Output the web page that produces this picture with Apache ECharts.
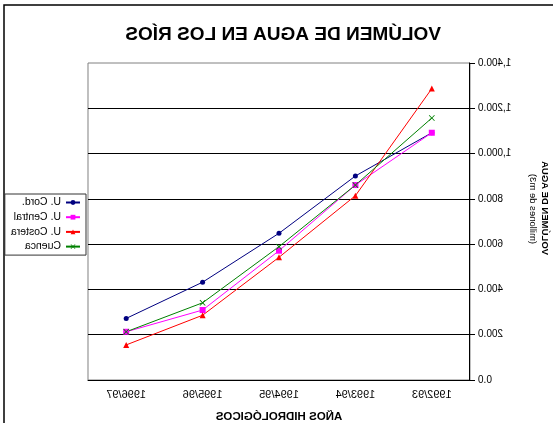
<!DOCTYPE html>
<html>
    <head>
        <meta charset="utf-8">
        <title>volumen-rios</title>
        <style>*{margin:0;padding:0}body{background:#fff}#chart{width:553px;height:423px;transform:scaleX(-1)}</style>
    </head>
    <body>
        <div id="chart"></div>
        <script type="text/javascript" src="https://cdn.jsdelivr.net/npm/echarts@6/dist/echarts.min.js"></script>
        <script>
            // años hidrológicos
            const years = ['1992/93', '1993/94', '1994/95', '1995/96', '1996/97'];
            // volumen (millones de m3)
            const uCord = [1092, 901, 648, 432, 272];
            const uCentral = [1092, 861, 571, 309, 213];
            const uCostera = [1287, 814, 542, 286, 155];
            const cuenca = [1157, 861, 589, 341, 213];
            const yTicks = [0, 200, 400, 600, 800, 1000, 1200, 1400];

            const font = 'Arial, "Liberation Sans", sans-serif';
            const chart = echarts.init(document.getElementById('chart'));

            function fmt(v) {
                return v.toLocaleString('en-US', { minimumFractionDigits: 1, maximumFractionDigits: 1 });
            }

            const xMark = 'path://M0,1L1,0L5,4L9,0L10,1L6,5L10,9L9,10L5,6L1,10L0,9L4,5Z';

            function line(name, data, color, symbol, size) {
                return {
                    name: name,
                    type: 'line',
                    data: data,
                    symbol: symbol,
                    symbolSize: size,
                    lineStyle: { color: color, width: 1 },
                    itemStyle: { color: color },
                    emphasis: { disabled: true },
                    animation: false
                };
            }

            chart.setOption({
                backgroundColor: '#fff',
                title: {
                    text: 'VOLÚMEN DE AGUA EN LOS RÍOS',
                    left: 107, top: 20,
                    textStyle: { fontFamily: font, fontSize: 19, fontWeight: 'bold', color: '#000' }
                },
                legend: {
                    orient: 'vertical',
                    left: 467, top: 194,
                    padding: [3, 6, 3, 5],
                    itemWidth: 14, itemHeight: 6, itemGap: 3.7,
                    borderColor: '#333', borderWidth: 1,
                    textStyle: { fontFamily: font, fontSize: 10.5, lineHeight: 10, color: '#000' },
                    data: ['U. Cord.', 'U. Central', 'U. Costera', 'Cuenca']
                },
                grid: {
                    left: 83, right: 88, top: 63, bottom: 43,
                    outerBoundsMode: 'none',
                    show: true, borderColor: '#808080', borderWidth: 1
                },
                xAxis: {
                    type: 'category',
                    data: years,
                    name: 'AÑOS HIDROLÓGICOS',
                    nameLocation: 'middle',
                    nameGap: 31,
                    nameTextStyle: { fontFamily: font, fontSize: 11.5, fontWeight: 'bold', color: '#000' },
                    axisLine: { lineStyle: { color: '#000', width: 1 } },
                    axisTick: { length: 4, lineStyle: { color: '#000' } },
                    axisLabel: { fontFamily: font, fontSize: 11, color: '#000', margin: 9 }
                },
                yAxis: {
                    type: 'value',
                    min: yTicks[0], max: yTicks[yTicks.length - 1], interval: 200,
                    axisLine: { show: true, lineStyle: { color: '#000', width: 1 } },
                    axisTick: { show: true, length: 5, lineStyle: { color: '#000' } },
                    axisLabel: { fontFamily: font, fontSize: 10, color: '#000', margin: 8, formatter: fmt },
                    splitLine: { show: true, showMinLine: false, showMaxLine: false, lineStyle: { color: '#000', width: 1 } }
                },
                graphic: [
                    {
                        type: 'rect',
                        shape: { x: -10, y: 5, width: 559, height: 440 },
                        style: { fill: null, stroke: '#000', lineWidth: 1.5 },
                        silent: true
                    },
                    {
                        type: 'text', x: 8, y: 208, rotation: Math.PI / 2,
                        style: { text: 'VOLÚMEN DE AGUA', font: 'bold 9.5px ' + font, fill: '#000', align: 'center', verticalAlign: 'middle' }
                    },
                    {
                        type: 'text', x: 20, y: 209, rotation: Math.PI / 2,
                        style: { text: '(millones de m3)', font: '9.5px ' + font, fill: '#000', align: 'center', verticalAlign: 'middle' }
                    }
                ],
                series: [
                    line('U. Cord.', uCord, '#000080', 'circle', 5),
                    line('U. Central', uCentral, '#FF00FF', 'rect', 6),
                    line('U. Costera', uCostera, '#FF0000', 'triangle', 6),
                    line('Cuenca', cuenca, '#008000', xMark, 6)
                ]
            });
        </script>
    </body>
</html>
